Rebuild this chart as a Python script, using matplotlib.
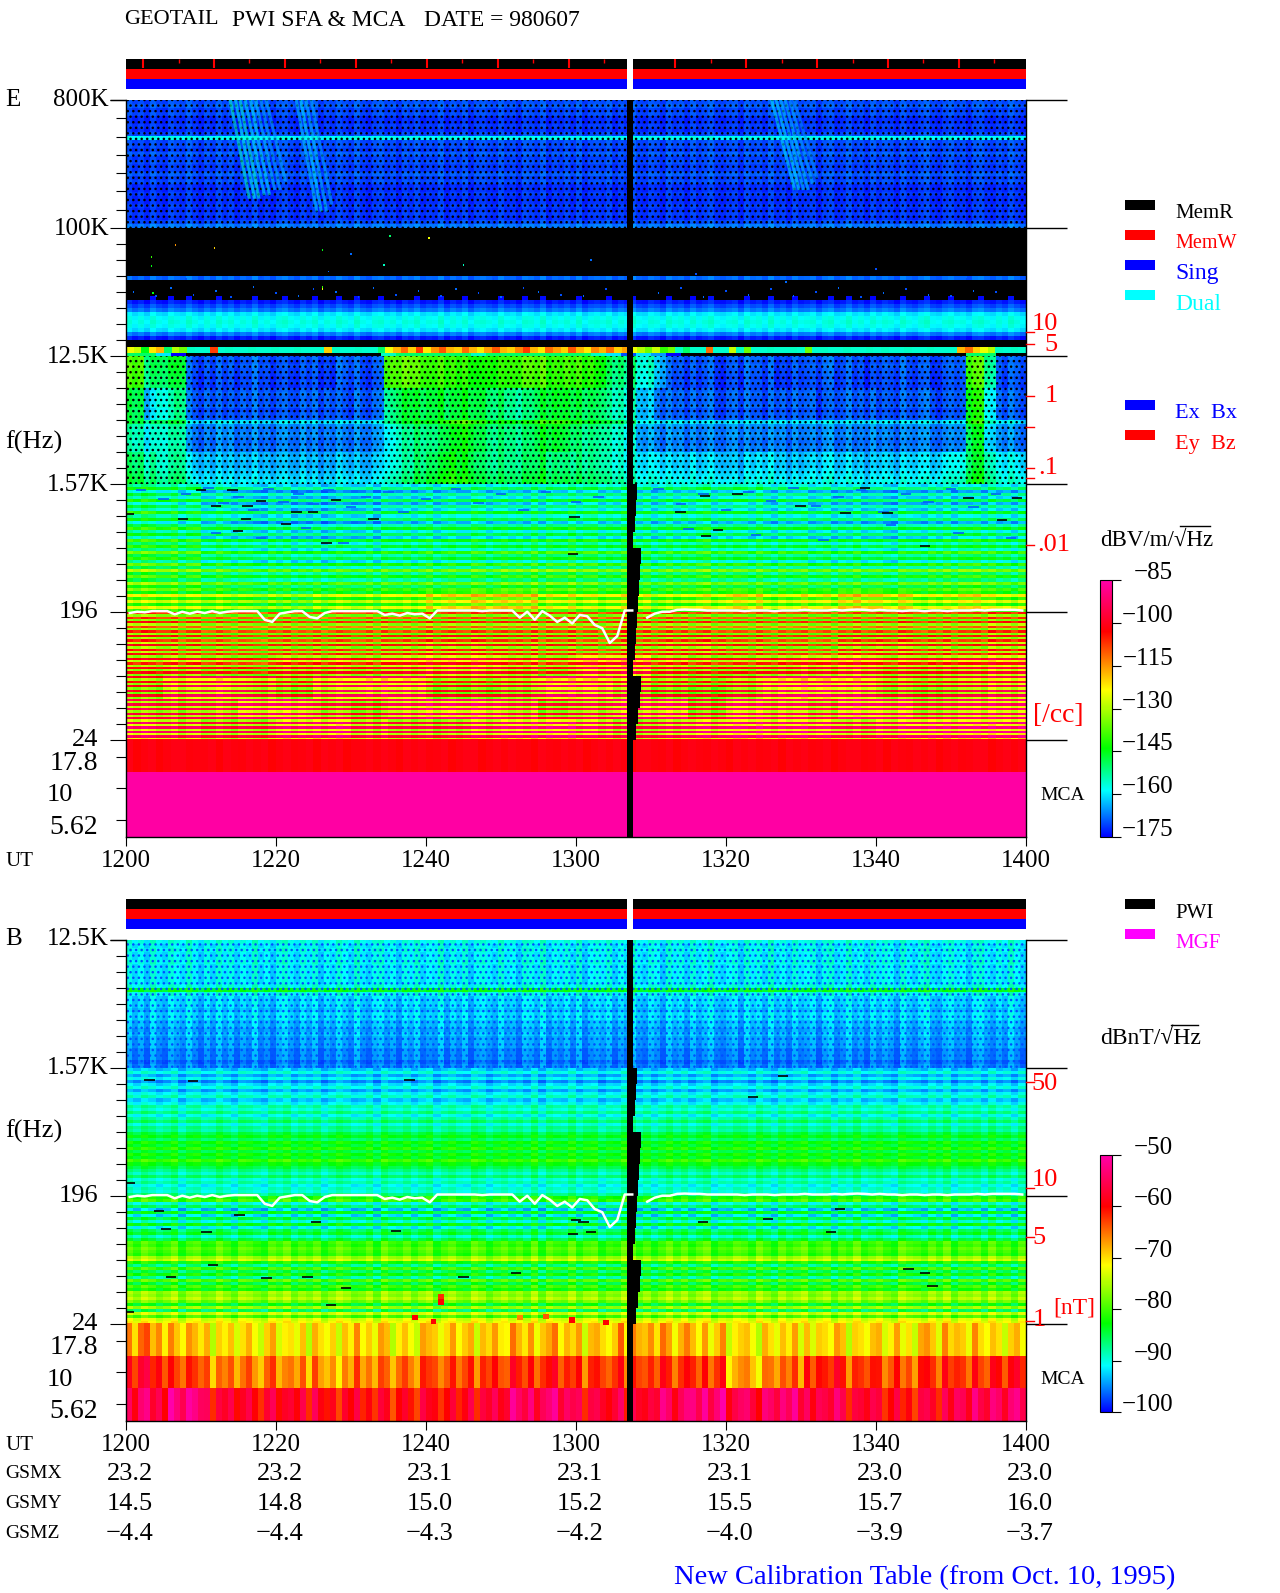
import numpy as np
import matplotlib
matplotlib.use("Agg")
import matplotlib.pyplot as plt
from matplotlib.cm import ScalarMappable
from matplotlib.colors import LinearSegmentedColormap, Normalize
from matplotlib.patches import Rectangle

plt.rcParams["font.family"] = ["Liberation Serif", "DejaVu Serif"]

W, H = 1280, 1593
FS = 17

# --- axis labels
ut_labels = ["1200", "1220", "1240", "1300", "1320", "1340", "1400"]
gsmx = ["23.2", "23.2", "23.1", "23.1", "23.1", "23.0", "23.0"]
gsmy = ["14.5", "14.8", "15.0", "15.2", "15.5", "15.7", "16.0"]
gsmz = ["−4.4", "−4.4", "−4.3", "−4.2", "−4.0", "−3.9", "−3.7"]
e_cbar_ticks = [-85, -100, -115, -130, -145, -160, -175]
b_cbar_ticks = [-50, -60, -70, -80, -90, -100]

# --- fine structure, dB offsets
hf_cols = [
    3, -4, 1, -6, 5, -2, -5, 4, 0, -3, 6, -1, -6, 2, -4, 5, -2, 3, -5, 1,
    -3, 6, -4, 0, -6, 2, 5, -1, -5, 3, -2, 4, -6, 1, -3, 5, 0, -4, 6, -2,
    -5, 2, 4, -3, 1, -6, 3, -1, 5, -4, 0, -2, 6, -5, 2, -3, 4, -6, 1, 3,
    -1, -4, 5, -2, 0, -6, 4, 2, -3, 6, -5, 1, -2, 3, -4, 5, -6, 0, 2, -1,
    4, -5, 1, -3, 6, -2, -4, 3, 0, -6, 5, -1, 2, -5, 4, -3, 1, 6, -2, -4,
    0, 3, -6, 5, -1, 2, -4, 6, -3, 1, -5, 4, -2, 0, 3, -6, 2, 5, -4, -1,
    6, -3, 1, -5, 4, -2, 3, 0, -6, 5, -1, -4, 2, 6, -3, -5, 1, 4, -2, 0,
    -6, 3, 5, -1, -4, 2, -3, 6, 0, -5]
lf_cols = [
    2, -1, 3, 1, -2, 0, 3, -3, 1, 2, -2, -1, 3, 0, -3, 2, 1, -1, -3, 2,
    0, 3, -2, 1, -1, 2, -3, 0, 3, 1, -2, -1, 2, -3, 3, 0, -1, 2, -2, 1,
    3, -3, 0, 2, -1, -2, 3, 1, -3, 0, 2, -1, 1, -2, 3, -3, 2, 0, -1, 3,
    -2, 1, 2, -3, 0, -1, 3, 2, -2, 1, -3, 0, 3, -1, 2, -2, 1, 3, -3, 0,
    -1, 2, 1, -2, 3, 0, -3, 2, -1, 1, 3, -2, 0, 2, -3, 1, -1, 3, -2, 0,
    2, -1, -3, 3, 1, 0, -2, 2, -1, 3, -3, 1, 0, 2, -2, 3, -1, 1, -3, 2]
mca_cols = [
    2, -4, 3, 5, -2, 1, -5, 4, 0, -3, 3, 1, -2, 4, -5, 2, 0, 3, -3, 1,
    4, -1, -4, 2, 5, -3, 0, 1, -2, 3, -5, 4, 1, -1, 2, -4, 3, 0, 5, -2,
    1, -3, 4, 2, -5, 0, 3, -1, -4, 5, 2, 1, -3, 0, 4, -2, 1, 3, -5, 2,
    0, 4, -1, -3, 5, 1, -2, 3, -4, 0, 2, 5, -3, 1, -1, 4, -5, 2, 3, 0,
    -2, 1, 5, -4, 3, 0, -1, 2, -3, 4, 1, -5, 0, 3, 2, -2, 4, -3, 1, 5,
    -4, 0, 2, 3, -1, -5, 4, 1, -2, 3, 0, 5, -3, 2, -4, 1, 0, -2, 4, 3,
    -5, 2, 1, -1, 3, 4, -3, 0, 5, -2, 1, -4, 2, 3, 0, -5, 4, -1, 2, 1,
    -3, 5, 0, -2, 3, 1, -4, 2, 4, -1]

# --- panel E, one list per stretch of the frequency axis, top down
e_top_rows = [
    -170, -169, -171, -170, -172, -172, -171, -172,
    -170, -158, -170, -170, -171, -169, -171, -170,
    -171, -171, -169, -171, -170, -172, -172, -171,
    -172, -172, -171, -172, -171, -172, -170, -167]
e_gap_rows = [
    -190, -190, -190, -190, -190, -190, -190, -190, -190, -190, -190, -190,
    -168, -190, -190, -182, -178, -176, -173, -170, -167,
    -160, -158, -157, -158, -160, -167, -173, -180, -182]
e_line = [
    -125, -128, -145, -122, -118, -150, -130, -135, -155, -156, -156, -108,
    -156, -155, -156, -156, -155, -156, -156, -155, -156, -156, -155, -156,
    -156, -156, -120, -155, -156, -156, -155, -156, -156, -150, -125, -118,
    -112, -120, -108, -122, -115, -110, -118, -120, -112, -118, -122, -116,
    -110, -118, -120, -114, -108, -118, -122, -112, -116, -120, -110, -118,
    -122, -114, -118, -112, -120, -116, -125, -130, -135, -128, -140, -135,
    -155, -150, -156, -156, -112, -156, -156, -128, -155, -135, -156, -156,
    -155, -156, -156, -155, -156, -135, -156, -155, -156, -156, -155, -156,
    -156, -155, -156, -155, -156, -156, -155, -156, -156, -155, -156, -156,
    -156, -118, -112, -120, -125, -130, -155, -156, -155, -156]
e_under = [
    -150, -150, -160, -175, -190, -190, -190, -190, -190, -190,
    -190, -190, -190, -190, -190, -190, -190, -155, -150, -150,
    -150, -150, -150, -155, -150, -150, -150, -150, -150, -150,
    -150, -155, -160, -170, -160, -165, -175, -190, -190, -190,
    -190, -190, -190, -190, -190, -190, -190, -190, -190, -190,
    -190, -190, -190, -190, -190, -190, -150, -150, -190, -190]
e_mid_grid = [
    [-138, -150, -148, -146, -170, -170, -170, -170, -169, -170,
     -171, -170, -170, -171, -169, -170, -170, -138, -136, -138,
     -140, -140, -141, -144, -142, -140, -138, -138, -140, -139,
     -140, -144, -150, -152, -156, -162, -170, -170, -170, -171,
     -170, -169, -170, -171, -170, -170, -169, -170, -170, -171,
     -170, -169, -170, -171, -170, -169, -138, -152, -170, -169],
    [-148, -162, -156, -151, -169, -169, -170, -169, -169, -169,
     -170, -169, -169, -169, -170, -169, -169, -152, -147, -148,
     -147, -148, -146, -148, -150, -152, -152, -148, -146, -147,
     -148, -150, -154, -156, -162, -167, -169, -169, -169, -170,
     -169, -169, -170, -169, -169, -169, -170, -169, -169, -169,
     -170, -169, -169, -169, -170, -169, -143, -158, -169, -169],
    [-154, -158, -155, -153, -167, -167, -166, -167, -167, -167,
     -167, -166, -167, -167, -167, -167, -166, -158, -153, -151,
     -151, -146, -144, -149, -151, -151, -151, -147, -146, -149,
     -151, -153, -155, -158, -164, -166, -166, -167, -167, -167,
     -166, -167, -167, -166, -167, -167, -166, -167, -167, -166,
     -167, -167, -166, -167, -167, -166, -147, -160, -166, -167],
    [-150, -154, -155, -152, -162, -163, -163, -163, -163, -163,
     -164, -163, -164, -164, -163, -164, -163, -158, -154, -151,
     -149, -144, -146, -151, -152, -152, -151, -149, -151, -152,
     -152, -154, -156, -158, -160, -160, -162, -161, -162, -162,
     -163, -162, -161, -162, -163, -162, -161, -162, -162, -163,
     -162, -162, -161, -162, -160, -158, -148, -154, -160, -160]]
e_mid_rows = [
    1, 0, 1, 0, 0, -1, 0, -1, 0, 1, 0, 0, 1, -1, 0, 0,
    7, 1, 0, 1, 0, -1, 0, 0, 0, 1, 0, 0, 1, 2, 3, 4]
e_lf_upper = [
    [-147, -149, -153, -155, -156, -156, -155, -154, -153, -152, -152, -151,
     -150, -151, -152, -150, -150, -152, -153, -154, -155, -154, -154, -153],
    [-146, -148, -151, -154, -155, -155, -154, -152, -151, -150, -151, -150,
     -149, -150, -151, -150, -151, -152, -152, -153, -153, -153, -152, -152],
    [-145, -146, -150, -152, -153, -153, -152, -150, -150, -149, -149, -148,
     -148, -149, -150, -148, -150, -150, -151, -151, -152, -150, -148, -150],
    [-143, -144, -148, -150, -151, -151, -150, -149, -148, -147, -146, -146,
     -146, -147, -148, -146, -148, -148, -149, -149, -150, -148, -146, -148],
    [-140, -142, -145, -147, -148, -147, -146, -146, -145, -144, -142, -142,
     -143, -144, -145, -143, -145, -146, -146, -145, -146, -144, -142, -145],
    [-136, -137, -138, -140, -142, -138, -138, -136, -132, -130, -130, -134,
     -135, -134, -138, -135, -132, -136, -134, -130, -132, -136, -132, -136]]
e_lf_upper_rows = [
    -6, 3, -11, 0, -8, 5, -10, -1, -9, 6, -7, 2, -12, -2, 5, -9, 1, -11, 6, -6, 4,
    -9, 8, -5, 2, -10, 7, -6, 10, -7, 3, -8, 9, -4, 6, -9, 12, -5, 9, -6, 11, -4]
e_lf_lower = [
    [-126, -128, -130, -130, -130, -130, -129, -130, -128, -128, -128, -128,
     -129, -126, -128, -129, -130, -130, -130, -129, -128, -130, -128, -126],
    [-124, -127, -128, -129, -128, -127, -128, -126, -124, -124, -126, -127,
     -128, -126, -125, -124, -127, -128, -129, -125, -124, -126, -127, -124],
    [-124, -122, -124, -126, -122, -122, -123, -120, -118, -118, -122, -124,
     -116, -116, -122, -124, -124, -122, -120, -118, -122, -122, -120, -118],
    [-122, -116, -114, -118, -122, -116, -113, -114, -122, -122, -120, -113,
     -113, -118, -122, -124, -120, -113, -112, -114, -120, -122, -118, -116],
    [-118, -118, -116, -113, -113, -118, -120, -114, -112, -112, -116, -120,
     -116, -113, -113, -120, -113, -114, -116, -112, -113, -118, -114, -113],
    [-114, -116, -118, -118, -113, -112, -116, -118, -118, -114, -112, -111,
     -113, -118, -116, -113, -111, -112, -112, -116, -113, -112, -111, -111]]
e_lf_lower_rows = [
    20, -6, 18, -8, 22, -4, 16, -7, 20, -6, 21, -8, 18, -5, 22, -7,
    19, -6, 20, -9, 22, -5, 17, -7, 21, -9, 20, -10, 21, -9, 18, -11,
    21, -12, 22, -13, 21, -11, 22, -13, 21, -12, 22, -14, 21, -12, 22, -14,
    21, -12, 22, -13, 23, -12, 21, -10]
e_mca_grid = [[-101], [-86], [-86]]
e_mca_cols = [
    0, -3, -1, 0, -3, -1, 0, 0, -2, -1, -1, 0, -3, 0, -1, -2, 0, -1, 0, -3,
    -1, 0, -2, -1, 0, -3, 0, -1, 0, -3, -1, -1, 0, -2, 0, -1, -3, 0, -1, 0,
    -2, -1, 0, -3, -1, 0, 0, -3, -1, 0, -2, 0, -1, -1, -3, 0, -1, -2, 0, -1,
    0, -3, -1, 0, -2, 0, -1, -3, 0, 0, -1, -2, 0, -3, -1, 0, -1, -2, 0, -1,
    -3, 0, -1, 0, -2, -1, 0, -3, 0, -1, 0, -2, -1, 0, -3, -1, 0, 0, -2, -1,
    0, -3, 0, -1, -2, 0, -1, 0, -3, -1, 0, -2, -1, 0, 0, -3, -1, 0, -2, 0]

# --- sparse points in the black stretch of panel E
e_speck_t = [3.4, 3.4, 3.6, 11.8, 26.2, 26.2, 26.2, 6.6, 35.2, 40.4, 34.4, 45,
             1, 4, 6, 9, 12, 14, 17, 20, 23, 25, 28, 31, 33, 36, 39, 42, 44, 47, 50, 53,
             55, 58, 61, 64, 71, 74, 77, 80, 83, 86, 89, 92, 95, 98, 101, 104, 107, 110, 113, 116,
             18, 27, 49, 62, 76, 88, 100, 112, 8, 30]
e_speck_pos = [3.77, 3.70, 3.49, 3.84, 3.83, 3.54, 3.52, 3.87, 3.94, 3.92, 3.71, 3.71,
               3.50, 3.47, 3.53, 3.48, 3.51, 3.46, 3.54, 3.49, 3.47, 3.52, 3.50, 3.46, 3.53, 3.48,
               3.51, 3.47, 3.52, 3.49, 3.46, 3.53, 3.50, 3.48, 3.47, 3.52, 3.49, 3.53, 3.46, 3.51,
               3.48, 3.52, 3.47, 3.50, 3.53, 3.46, 3.49, 3.52, 3.48, 3.47, 3.51, 3.50,
               3.62, 3.66, 3.60, 3.75, 3.64, 3.58, 3.68, 3.62, 3.60, 3.80]
e_speck_db = [-140, -145, -145, -120, -145, -140, -125, -115, -150, -125, -155, -155,
              -168, -170, -168, -170, -168, -170, -168, -170, -168, -170, -168, -170, -168, -170,
              -168, -170, -168, -170, -168, -170, -168, -170, -168, -170, -168, -170, -168, -170,
              -168, -170, -168, -170, -168, -170, -168, -170, -168, -170, -168, -170,
              -170, -168, -170, -168, -170, -168, -170, -168, -170, -168]

# --- panel B
b_top_rows = [
    -90, -91, -90, -91, -91, -90, -91, -91, -91, -91, -91, -90,
    -83, -90, -92, -92, -92, -93, -92, -92, -93, -93, -94, -93,
    -94, -94, -94, -95, -95, -95, -96, -95]
b_mid_rows = [
    -93, -90, -94, -91, -95, -92, -90, -94, -91, -89, -93,
    -91, -88, -90, -87, -91, -88, -86, -90, -87, -88,
    -85, -83, -86, -82, -84, -81, -85, -82, -84, -80, -83, -85,
    -87, -89, -86, -90, -88, -91, -89, -90, -87]
b_low_rows = [
    -82, -80,
    -90, -86, -93, -84, -92, -85, -90, -83, -91, -86, -84, -89, -85,
    -80, -81, -79, -80, -81,
    -76, -74,
    -82, -87, -80, -86, -82, -88, -79, -85, -80, -83,
    -76, -77, -75, -78,
    -84, -76, -86, -74, -80, -73, -72]
b_mca_grid = [
    [-67, -69, -71, -71, -71, -71, -70, -71, -70, -70, -69, -69,
     -70, -68, -68, -70, -71, -71, -70, -71, -71, -69, -70, -71],
    [-60, -63, -66, -66, -66, -68, -66, -65, -64, -63, -62, -62,
     -63, -63, -62, -63, -68, -66, -61, -63, -64, -62, -63, -61],
    [-56, -53, -58, -59, -58, -60, -60, -60, -60, -58, -55, -55,
     -58, -58, -55, -54, -56, -55, -56, -58, -60, -58, -56, -55]]

# --- black and blue dashes inside the stripes, minutes after 1200 and axis step
e_dash_t = [10, 14.2, 12, 16.2, 22.7, 7.6, 16, 33, 21.3, 14.9, 26.7, 59.8, 59.6,
            24.9, 28, 18, 0.4, 98.5, 77.2, 81.5, 73.9, 89.9, 95.9, 101.5, 78.9,
            77.3, 106.5, 112.3, 116.8, 118.8]
e_dash_pos = [1.953, 1.953, 1.826, 1.83, 1.78, 1.73, 1.73, 1.73, 1.69, 1.635,
              1.536, 1.74, 1.453, 1.78, 1.875, 1.87, 1.766, 1.97, 1.906, 1.92,
              1.78, 1.83, 1.77, 1.77, 1.64, 1.594, 1.516, 1.89, 1.72, 1.89]
e_blue_t = [2, 5, 8, 11, 13, 15, 17, 19, 21, 23, 25, 27, 30, 32, 35, 37, 40, 44, 47, 50,
            53, 56, 60, 63, 71, 74, 77, 80, 83, 86, 89, 92, 95, 98, 101, 104, 107, 110, 113, 116,
            12, 18, 24, 29, 75, 84, 93, 102, 111, 118]
e_blue_pos = [1.95, 1.88, 1.92, 1.97, 1.85, 1.90, 1.80, 1.96, 1.86, 1.92, 1.84, 1.95,
              1.82, 1.90, 1.94, 1.78, 1.88, 1.96, 1.85, 1.92, 1.80, 1.94, 1.86, 1.90,
              1.96, 1.84, 1.92, 1.80, 1.94, 1.87, 1.97, 1.83, 1.90, 1.95, 1.78, 1.92,
              1.86, 1.96, 1.82, 1.92, 1.62, 1.58, 1.66, 1.54, 1.65, 1.60, 1.56, 1.68, 1.62, 1.58]
b_dash_t = [3.1, 8.9, 37.8, 0.5, 4.4, 15.1, 10.7, 5.3, 25.3, 36, 60, 61, 59.6, 62,
            6, 11.6, 18.7, 24.2, 0.4, 27.3, 29.3, 45, 52, 76.9, 85.6, 94, 95.2,
            104.3, 106.5, 107.5, 87.6, 83.6]
b_dash_pos = [1.906, 1.898, 1.906, 1.10, 0.883, 0.85, 0.72, 0.74, 0.797, 0.727,
              0.81, 0.797, 0.70, 0.72, 0.367, 0.46, 0.36, 0.367, 0.094, 0.148,
              0.28, 0.367, 0.4, 0.80, 0.82, 0.72, 0.9, 0.43, 0.4, 0.3, 1.94, 1.77]
b_spot_t = [42, 42, 38.5, 59.5, 56, 52.5, 41, 64]
b_spot_pos = [0.21, 0.17, 0.05, 0.03, 0.06, 0.05, 0.02, 0.01]
b_spot_db = [-62, -60, -60, -60, -64, -66, -60, -60]

# --- data gap: its left edge and the right edge per 1/8 step below 1.57K
gap_start = 66.8
gap_end = 67.6
gap_right = [68.1, 68.0, 67.9, 67.6, 68.7, 68.5, 68.4, 68.3,
             68.1, 68.0, 67.9, 67.6, 68.7, 68.5, 68.3, 68.0]

# --- white line, Hz per minute
fce_hz = [
    192, 196, 194, 198, 198, 198, 188, 196, 190, 196, 192, 198, 192, 196, 198,
    198, 198, 198, 172, 166, 190, 194, 198, 198, 180, 176, 192, 198, 198, 198,
    198, 198, 198, 198, 186, 190, 184, 192, 188, 190, 176, 200, 200, 200, 200,
    200, 200, 198, 200, 200, 200, 200, 178, 196, 172, 198, 184, 166, 178, 162,
    186, 182, 158, 150, 118, 132, 200, 200, np.nan, 178, 190, 196, 196, 202, 203,
    202, 202, 200, 200, 200, 200, 200, 198, 200, 200, 200, 198, 200, 200, 200,
    202, 200, 200, 200, 202, 200, 202, 203, 202, 200, 202, 200, 200, 198, 200,
    200, 198, 200, 200, 198, 200, 200, 200, 202, 200, 202, 202, 202, 202, 200]

# --- streaks at the top of panel E
streak_t_top = [13.9, 14.6, 15.2, 15.9, 16.6, 17.3, 18.0, 18.7,
                22.7, 23.3, 24.0, 24.7, 86.1, 86.7, 87.3, 87.9, 88.5, 89.1]
streak_t_bot = [16.4, 17.1, 17.7, 18.4, 19.1, 19.8, 20.5, 21.2,
                25.4, 26.0, 26.7, 27.4, 89.1, 89.7, 90.3, 90.9, 91.5, 92.1]
streak_hz_bot = [165e3, 165e3, 165e3, 175e3, 175e3, 190e3, 190e3, 220e3,
                 134e3, 134e3, 134e3, 150e3, 190e3, 190e3, 190e3, 190e3, 210e3, 230e3]
streak_db = [-155, -158, -156, -160, -160, -162, -164, -164,
             -162, -160, -162, -164, -160, -160, -162, -162, -164, -166]

cmap = LinearSegmentedColormap.from_list("pwi", [
    (0.0, "#0000ff"), (0.18, "#00ffff"), (0.346, "#00ff00"),
    (0.57, "#ffff00"), (0.80, "#ff0000"), (1.0, "#ff00aa")], N=256)
cmap.set_under("black")
e_norm = Normalize(-175, -85)
b_norm = Normalize(-100, -50)

fig = plt.figure(figsize=(W / 100, H / 100), dpi=100, facecolor="white")
ov = fig.add_axes([0, 0, 1, 1], zorder=5)
ov.set_xlim(0, W)
ov.set_ylim(H, 0)
ov.axis("off")


def rect(x0, y0, x1, y1):
    return [x0 / W, 1 - y1 / H, (x1 - x0) / W, (y1 - y0) / H]


def put(x, y, s, ha="left", color="black", size=FS):
    ov.text(x, y + 2, s, ha=ha, va="center", color=color, fontsize=size)


def hz_pos(f):
    return np.log(np.asarray(f, dtype=float) / 24.4) / np.log(8)


def fill_band(ax, top, bottom, grid, rows=(0,), cols=(0,), norm=e_norm, gain=1.0):
    grid, rows, cols = np.array(grid), np.array(rows), np.array(cols) * gain
    nr = max(len(rows), grid.shape[0])
    nc = max(len(cols), grid.shape[1])
    vals = (grid[np.ix_(np.arange(nr) * grid.shape[0] // nr, np.arange(nc) * grid.shape[1] // nc)]
            + rows[np.arange(nr) * len(rows) // nr][:, None]
            + cols[np.arange(nc) * len(cols) // nc][None, :])
    ax.imshow(vals, extent=[0, 120, bottom, top], aspect="auto", interpolation="nearest",
              cmap=cmap, norm=norm)


def grain(ax, top, bottom, hatch, colour):
    # speckle look of the noisy stretches, style only
    ax.add_patch(Rectangle((0, bottom), 120, top - bottom, fill=False, hatch=hatch,
                           edgecolor=colour, lw=0, zorder=2))


def setup_panel(rect_px, top_pos, first_decade_steps):
    ax = fig.add_axes(rect(*rect_px))
    ax.set_xlim(0, 120)
    ax.set_ylim(-0.758, top_pos)
    ax.spines["top"].set_visible(False)
    for s in ax.spines.values():
        s.set_linewidth(1.0)
    ax.set_xticks(np.arange(0, 121, 20))
    ax.set_xticklabels([])
    ax.tick_params(axis="x", direction="out", length=6.5, width=0.8)
    majors = np.arange(0, top_pos + 0.5)
    ax.set_yticks(majors)
    ax.set_yticklabels([])
    minors = [-0.133, -0.375, -0.625]
    for d in majors[:-1]:
        steps = first_decade_steps if d == majors[-2] else 8
        minors += list(d + np.arange(1, steps) / steps)
    ax.set_yticks(minors, minor=True)
    ax.tick_params(axis="y", which="major", direction="out", length=11.5, width=0.8)
    ax.tick_params(axis="y", which="minor", direction="out", length=7.2, width=0.8)
    ax.hlines(majors, 1.0, 1.0456, transform=ax.get_yaxis_transform(), color="black",
              lw=1.0, clip_on=False)
    ax.hlines([top_pos], -0.018, 0, transform=ax.get_yaxis_transform(), color="black",
              lw=1.0, clip_on=False)
    return ax


def finish_panel(ax, top_pos):
    # data gap
    ax.axvspan(gap_start, gap_end, color="black", lw=0, zorder=4)
    step_centres = 2 - (np.arange(len(gap_right)) + 0.5) / 8
    ax.barh(step_centres, np.array(gap_right) - gap_start, height=0.125, left=gap_start,
            color="black", lw=0, zorder=4)
    ax.plot(np.arange(len(fce_hz)) + 0.5, hz_pos(fce_hz), color="white", lw=1.8, zorder=5)
    ax.set_xlim(0, 120)
    ax.set_ylim(-0.758, top_pos)


def status_bar(rect_px, with_ticks):
    ax = fig.add_axes(rect(*rect_px))
    ax.set_xlim(0, 120)
    ax.set_ylim(0, 3)
    ax.axis("off")
    for row, colour in zip([2, 1, 0], ["black", "#ff0000", "#0000ff"]):
        ax.barh(row + 0.5, 120, height=1, left=0, color=colour, lw=0)
    ax.axvspan(gap_start, gap_end, color="white", lw=0, zorder=3)
    if with_ticks:
        marks = np.arange(2.27, 120, 4.73)
        marks = marks[np.abs(marks - 67.2) > 2]
        for i, t in enumerate(marks):
            ax.vlines(t, 2.1 if i % 2 == 0 else 2.6, 3, color="#ff0000", lw=1.5 if i % 2 == 0 else 1)


def colorbar(rect_px, norm, ticks):
    cax = fig.add_axes(rect(*rect_px))
    cb = fig.colorbar(ScalarMappable(norm=norm, cmap=cmap), cax=cax)
    cb.set_ticks(ticks)
    cb.set_ticklabels([])
    cb.outline.set_linewidth(0.8)
    cax.tick_params(length=6.5, width=0.8, direction="out")
    x0, y0, x1, y1 = rect_px
    for v in ticks:
        put(1173, y0 + (norm.vmax - v) / (norm.vmax - norm.vmin) * (y1 - y0) - 9,
            str(v).replace("-", "−"), ha="right", size=18)


def red_ticks(y_px):
    for y in y_px:
        ov.plot([1026, 1034], [y, y], color="#ff0000", lw=1.0)


# ---------- panel E ----------
ax_e = setup_panel((126, 100, 1026, 837), 5, 7)
fill_band(ax_e, 5, 4, [[0]], e_top_rows, hf_cols, gain=0.25)
fill_band(ax_e, 4, 3.0625, [[0]], e_gap_rows, hf_cols, gain=0.3)
fill_band(ax_e, 3.0625, 3.023, [e_line])
fill_band(ax_e, 3.023, 3, [e_under])
fill_band(ax_e, 3, 2, e_mid_grid, e_mid_rows, hf_cols, gain=0.4)
fill_band(ax_e, 2, 1, e_lf_upper, e_lf_upper_rows, lf_cols)
fill_band(ax_e, 1, 0, e_lf_lower, e_lf_lower_rows, lf_cols)
fill_band(ax_e, 0, -0.758, e_mca_grid, (0,), e_mca_cols, gain=0.6)
ax_e.add_patch(Rectangle((0, -0.758), 120, 0.505, color=cmap(e_norm(-86)), lw=0, zorder=1))
grain(ax_e, 5, 4, "...", "black")
grain(ax_e, 3, 2, "...", "black")
for t0, t1, f, db in zip(streak_t_top, streak_t_bot, streak_hz_bot, streak_db):
    ax_e.plot([t0, t1], [5, hz_pos(f)], color=cmap(e_norm(db)), lw=2.2, alpha=0.55, zorder=3)
ax_e.scatter(e_speck_t, e_speck_pos, c=e_speck_db, cmap=cmap, norm=e_norm, marker="s", s=2, lw=0, zorder=3)
ax_e.hlines(e_blue_pos, np.array(e_blue_t) - 0.7, np.array(e_blue_t) + 0.7, color="#0060ff", lw=1.2, zorder=3)
ax_e.hlines(e_dash_pos, np.array(e_dash_t) - 0.7, np.array(e_dash_t) + 0.7, color="black", lw=1.2, zorder=3)
finish_panel(ax_e, 5)
status_bar((126, 59, 1026, 89), True)
colorbar((1100, 580, 1112, 837), e_norm, e_cbar_ticks)

# ---------- panel B ----------
ax_b = setup_panel((126, 940, 1026, 1421), 3, 8)
fill_band(ax_b, 3, 2, [[0]], b_top_rows, hf_cols, norm=b_norm, gain=0.3)
fill_band(ax_b, 2, 1, [[0]], b_mid_rows, lf_cols, norm=b_norm, gain=0.5)
fill_band(ax_b, 1, 0, [[0]], b_low_rows, lf_cols, norm=b_norm, gain=0.7)
fill_band(ax_b, 0, -0.758, b_mca_grid, (0,), mca_cols, norm=b_norm, gain=0.8)
grain(ax_b, 3, 2, "...", "#0050ff")
ax_b.hlines(b_dash_pos, np.array(b_dash_t) - 0.7, np.array(b_dash_t) + 0.7, color="black", lw=1.2, zorder=3)
ax_b.scatter(b_spot_t, b_spot_pos, c=b_spot_db, cmap=cmap, norm=b_norm, marker="s", s=16, lw=0, zorder=3)
finish_panel(ax_b, 3)
status_bar((126, 899, 1026, 929), False)
colorbar((1100, 1155, 1112, 1412), b_norm, b_cbar_ticks)

# ---------- text ----------
put(124, 18, "GEOTAIL", size=16)
put(232, 18, "PWI SFA & MCA")
put(424, 18, "DATE = 980607")

put(5, 98, "E", size=18)
for y, s in zip([98, 227, 355, 483], ["800K", "100K", "12.5K", "1.57K"]):
    put(109, y, s, ha="right", size=18)
for y, s in zip([610, 738], ["196", "24"]):
    put(98, y, s, ha="right", size=19)
for y, s in zip([762, 826], ["17.8", "5.62"]):
    put(98, y, s, ha="right", size=20)
put(73, 793, "10", ha="right", size=19)
put(5, 440, "f(Hz)", size=19)
put(5, 859, "UT", size=15)

put(5, 937, "B", size=18)
for y, s in zip([937, 1066], ["12.5K", "1.57K"]):
    put(109, y, s, ha="right", size=18)
for y, s in zip([1194, 1322], ["196", "24"]):
    put(98, y, s, ha="right", size=19)
for y, s in zip([1345, 1410], ["17.8", "5.62"]):
    put(98, y, s, ha="right", size=20)
put(73, 1378, "10", ha="right", size=19)
put(5, 1129, "f(Hz)", size=19)
put(5, 1443, "UT", size=15)

for y, name, row in zip([1472, 1502, 1532], ["GSMX", "GSMY", "GSMZ"], [gsmx, gsmy, gsmz]):
    put(5, y, name, size=14)
    for k, s in enumerate(row):
        put(130 + 150 * k, y, s, ha="center", size=19)
for k, s in enumerate(ut_labels):
    put(126 + 150 * k, 859, s, ha="center", size=18)
    put(126 + 150 * k, 1443, s, ha="center", size=18)

# right hand red scales
red_ticks([332, 344, 396, 427, 468, 478, 545])
for x, y, s in zip([1058, 1058, 1058, 1058, 1070], [322, 343, 394, 466, 543], ["10", "5", "1", ".1", ".01"]):
    put(x, y, s, ha="right", color="#ff0000", size=19)
put(1033, 713, "[/cc]", color="#ff0000", size=20)
put(1040, 793, "MCA", size=14)
red_ticks([1082, 1188, 1237, 1321])
for x, y, s in zip([1058, 1058, 1046, 1046], [1082, 1178, 1236, 1318], ["50", "10", "5", "1"]):
    put(x, y, s, ha="right", color="#ff0000", size=19)
put(1053, 1306, "[nT]", color="#ff0000")
put(1040, 1378, "MCA", size=14)

# legends
for y, s, colour, size in zip(
        [212, 242, 272, 302, 412, 442, 911, 941],
        ["MemR", "MemW", "Sing", "Dual", "Ex  Bx", "Ey  Bz", "PWI", "MGF"],
        ["black", "#ff0000", "#0000ff", "#00ffff", "#0000ff", "#ff0000", "black", "#ff00ff"],
        [15, 14.5, 17, 17, 16, 16, 15, 15]):
    ov.fill_between([1125, 1155], y - 12, y - 2, color=colour, lw=0)
    put(1175, y, s, color=colour, size=size)

put(1100, 538, "dBV/m/√Hz", size=16.5)
ov.plot([1180, 1210], [526, 526], color="black", lw=1.0)
put(1100, 1037, "dBnT/√Hz")
ov.plot([1171, 1198], [1025, 1025], color="black", lw=1.0)

put(674, 1576, "New Calibration Table (from Oct. 10, 1995)", color="#0000ff", size=20.5)

fig.savefig("out.png", dpi=100)
